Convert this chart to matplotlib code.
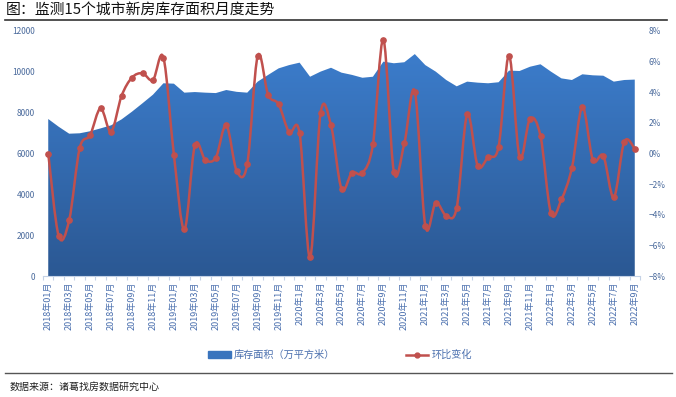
import numpy as np
import matplotlib
matplotlib.use('Agg')
import matplotlib.pyplot as plt
from matplotlib.path import Path
from matplotlib.patches import PathPatch, Patch
from matplotlib.lines import Line2D
from matplotlib.colors import LinearSegmentedColormap

plt.rcParams['font.family'] = ['Noto Sans CJK SC', 'DejaVu Sans']

# ---- data ----
months = []
for y in range(2018, 2023):
    for m in range(1, 13):
        if y == 2022 and m > 9:
            break
        if y < 2020:
            months.append('%d年%02d月' % (y, m))
        else:
            months.append('%d年%d月' % (y, m))

area = [7690, 7310, 6970, 6990, 7090, 7230, 7380, 7670, 8050, 8460,
        8880, 9440, 9420, 8980, 9010, 8980, 8960, 9110, 9020, 8980,
        9520, 9850, 10170, 10330, 10450, 9760, 10010, 10200, 9960, 9850,
        9710, 9760, 10500, 10420, 10470, 10870, 10330, 10010, 9600, 9290,
        9520, 9470, 9440, 9490, 10060, 10040, 10250, 10370, 10010, 9680,
        9600, 9880, 9830, 9810, 9520, 9600, 9620]

change = [0.0, -5.4, -4.35, 0.34, 1.2, 2.95, 1.43, 3.76, 4.96, 5.24,
          4.8, 6.26, -0.1, -4.96, 0.53, -0.42, -0.27, 1.85, -1.15, -0.69,
          6.37, 3.82, 3.21, 1.38, 1.32, -6.79, 2.63, 1.84, -2.30, -1.25,
          -1.27, 0.6, 7.42, -1.19, 0.66, 4.04, -4.72, -3.22, -4.06, -3.54,
          2.56, -0.80, -0.23, 0.45, 6.39, -0.23, 2.28, 1.14, -3.91, -3.0,
          -0.93, 3.04, -0.42, -0.16, -2.86, 0.77, 0.32]

left_ticks = [0, 2000, 4000, 6000, 8000, 10000, 12000]
right_ticks = [-8, -6, -4, -2, 0, 2, 4, 6, 8]

x = np.arange(len(months))

fig = plt.figure(figsize=(6.76, 3.97), dpi=100)
ax = fig.add_axes([43/676, 1-276/397, (640-43)/676, (276-31)/397])
ax2 = ax.twinx()

# gradient area
poly = ax.fill_between(x, 0, area, color='none', lw=0)
grad = LinearSegmentedColormap.from_list('g', ['#2b5893', '#3c7dcc'])
img = ax.imshow(np.linspace(0, 1, 256).reshape(-1, 1), cmap=grad, origin='lower',
                aspect='auto', extent=[-0.5, len(x)-0.5, 0, 11000], zorder=1)
img.set_clip_path(poly.get_paths()[0], transform=ax.transData)

ax.set_xlim(-0.5, len(x)-0.5)
ax.set_ylim(0, 12000)
ax.set_yticks(left_ticks)
ax.set_yticklabels([str(v) for v in left_ticks])
ax.set_xticks(x[::2])
ax.set_xticklabels(months[::2], rotation=90, fontsize=6.5, color='#4a6fae')
ax.set_xticks(np.arange(-0.5, len(x), 1), minor=True)
ax.tick_params(axis='x', which='major', length=0, pad=4)
ax.tick_params(axis='x', which='minor', length=3, color='#c5d2e6', width=0.8)
ax.tick_params(axis='y', length=0, labelsize=6, labelcolor='#4a6a9c', pad=6)
for s in ['top', 'right', 'left']:
    ax.spines[s].set_visible(False)
ax.spines['bottom'].set_color('#c5d2e6')

# smoothed red line (bezier through the points)
pts = np.column_stack([x, change]).astype(float)
verts = [pts[0]]
codes = [Path.MOVETO]
n = len(pts)
for i in range(n - 1):
    p0 = pts[max(i-1, 0)]
    p1 = pts[i]
    p2 = pts[i+1]
    p3 = pts[min(i+2, n-1)]
    verts += [p1 + (p2 - p0) / 6, p2 - (p3 - p1) / 6, p2]
    codes += [Path.CURVE4] * 3
ax2.add_patch(PathPatch(Path(verts, codes), fc='none', ec='#c0504d', lw=1.8, zorder=3))
ax2.plot(x, change, 'o', color='#c0504d', ms=3.8, zorder=4)
ax2.set_ylim(-8, 8)
ax2.set_yticks(right_ticks)
ax2.set_yticklabels([('−%d%%' % -v) if v < 0 else '%d%%' % v for v in right_ticks])
ax2.tick_params(axis='y', length=0, labelsize=6, labelcolor='#4a6a9c', pad=6)
for s in ['top', 'right', 'left', 'bottom']:
    ax2.spines[s].set_visible(False)

# title, rules, legend, source
fig.text(6/676, 1-10/397, '图：监测15个城市新房库存面积月度走势', fontsize=10.7,
         va='center', ha='left', color='#111111')
fig.add_artist(Line2D([5/676, 667/676], [1-20/397, 1-20/397], color='#333333', lw=1.2))
fig.add_artist(Line2D([5/676, 672/676], [1-373/397, 1-373/397], color='#555555', lw=1.0))
fig.text(10/676, 1-387/397, '数据来源：诸葛找房数据研究中心', fontsize=7.2,
         va='center', ha='left', color='#222222')

handles = [Patch(color='#3a74bd'),
           Line2D([], [], color='#c0504d', lw=1.8, marker='o', ms=3.5)]
fig.legend(handles, ['库存面积（万平方米）', '环比变化'], loc='center',
           bbox_to_anchor=(340/676, 1-355/397), ncol=2, frameon=False,
           fontsize=7.3, labelcolor='#4a6fae', columnspacing=7,
           handlelength=2.2, handletextpad=0.3)

fig.savefig('out.png', dpi=100)
